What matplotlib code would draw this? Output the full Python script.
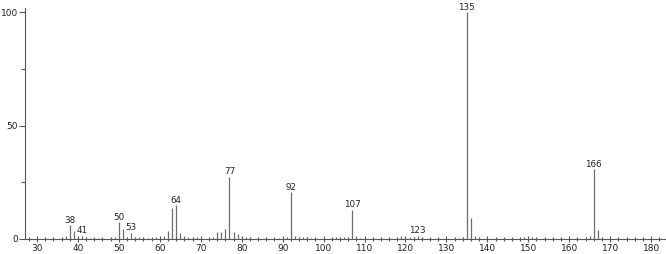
import matplotlib
matplotlib.use("Agg")
import matplotlib.pyplot as plt
from matplotlib.ticker import MultipleLocator

mz = [37, 38, 39, 40, 41, 42, 43, 44, 45, 46, 49, 50, 51, 52, 53, 54, 55, 56, 57,
      59, 61, 62, 63, 64, 65, 66, 67, 68, 69, 70, 73, 74, 75, 76, 77, 78, 79, 80,
      81, 82, 89, 90, 91, 92, 93, 94, 95, 96, 97, 102, 103, 104, 105, 106, 107,
      108, 109, 119, 120, 121, 122, 123, 124, 133, 134, 135, 136, 137, 138, 148,
      149, 150, 151, 165, 166, 167]
intensity = [1.5, 6.0, 3.7, 0.5, 1.5, 0.8, 0.5, 0.5, 0.5, 0.5, 0.8, 7.4, 4.6, 1.0,
             2.7, 1.0, 1.0, 1.0, 0.5, 1.0, 1.2, 3.5, 13.5, 14.8, 2.7, 1.5, 1.0, 0.8,
             0.8, 0.5, 0.8, 3.0, 3.0, 4.3, 27.4, 3.0, 2.4, 1.0, 0.8, 0.8, 0.5, 1.0,
             0.8, 20.5, 1.5, 0.8, 1.0, 0.8, 0.5, 0.5, 1.0, 0.8, 1.0, 0.8, 12.9, 1.2,
             0.6, 1.2, 0.8, 0.8, 0.8, 1.5, 0.8, 0.6, 0.8, 100.0, 9.3, 1.2, 0.8, 0.5,
             0.8, 0.5, 0.8, 1.5, 30.8, 4.0]
labeled = [38, 41, 50, 53, 64, 77, 92, 107, 123, 135, 166]

fig = plt.figure(figsize=(6.66, 2.54), dpi=100)
ax = fig.add_axes([25/666, 15/254, 640/666, 231/254])

ax.vlines(mz, 0, intensity, colors="#6e6e6e", linewidth=0.9)
lookup = dict(zip(mz, intensity))
for m in labeled:
    ax.annotate(str(m), (m, lookup[m]), xytext=(0, 0.3), textcoords="offset points",
                ha="center", va="bottom", fontsize=6.3, color="#222222",
                annotation_clip=False)

ax.set_xlim(27.07, 183.4)
ax.set_ylim(0, 101.8)
ax.xaxis.set_major_locator(MultipleLocator(10))
ax.xaxis.set_minor_locator(MultipleLocator(2))
ax.yaxis.set_major_locator(MultipleLocator(50))
ax.yaxis.set_minor_locator(MultipleLocator(25))
ax.tick_params(axis="x", which="major", direction="inout", length=5, width=0.8,
               colors="#555555", labelsize=6.5, labelcolor="#222222", pad=1)
ax.tick_params(axis="x", which="minor", direction="inout", length=3, width=0.8,
               colors="#555555")
ax.tick_params(axis="y", which="major", direction="out", length=4, width=0.8,
               colors="#555555", labelsize=6.5, labelcolor="#222222", pad=1)
ax.tick_params(axis="y", which="minor", direction="out", length=3, width=0.8,
               colors="#555555")
for s in ["top", "right"]:
    ax.spines[s].set_visible(False)
for s in ["left", "bottom"]:
    ax.spines[s].set_color("#555555")
    ax.spines[s].set_linewidth(0.8)

fig.savefig("out.png", dpi=100)
